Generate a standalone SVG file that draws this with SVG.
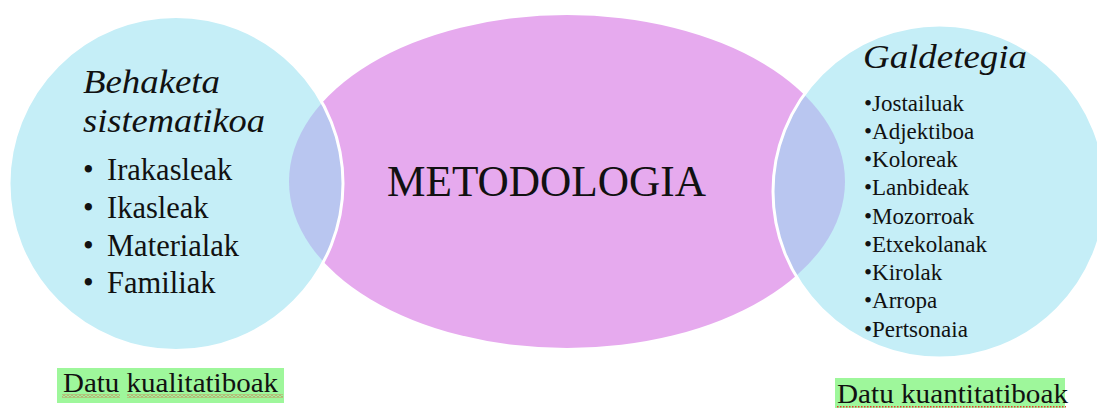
<svg xmlns="http://www.w3.org/2000/svg" width="1097" height="408" viewBox="0 0 1097 408">
<style>
.t{font-family:"Liberation Serif","Times New Roman",serif;fill:#111;}
.it{font-style:italic;font-size:33px;}
.big{font-size:30.5px;}
.sm{font-size:23px;}
.lbl{font-size:28px;}
.cyan{fill:#C5EEF7;}
.lens{fill:#B9C6F0;}
.edge{fill:none;stroke:#FFFFFF;stroke-width:3;}
.hl{fill:#9EF79B;}
</style>
<defs>
<clipPath id="clipEll"><ellipse cx="567" cy="181.5" rx="278" ry="166.5"/></clipPath>
<pattern id="wave" width="4" height="3" patternUnits="userSpaceOnUse">
<path d="M0 2.3 L2 0.7 L4 2.3" fill="none" stroke="#E8392E" stroke-width="0.9"/>
</pattern>
<pattern id="dots" width="3" height="2" patternUnits="userSpaceOnUse">
<rect x="0" y="0" width="1.5" height="1.5" fill="#E8392E"/>
</pattern>
</defs>
<rect width="1097" height="408" fill="#FFFFFF"/>

<g id="node-center">
<ellipse cx="567" cy="181.5" rx="278" ry="166.5" fill="#E6AAEE"/>
</g>

<g id="node-left">
<circle class="cyan" cx="176" cy="183.5" r="167"/>
<circle class="lens" cx="176" cy="183.5" r="167" clip-path="url(#clipEll)"/>
<circle class="edge" cx="176" cy="183.5" r="167"/>
<text class="t it" x="83" y="93" textLength="137" lengthAdjust="spacingAndGlyphs">Behaketa</text>
<text class="t it" x="83" y="132" textLength="182" lengthAdjust="spacingAndGlyphs">sistematikoa</text>
<text class="t big" x="83" y="180">•</text>
<text class="t big" x="107" y="180">Irakasleak</text>
<text class="t big" x="83" y="218">•</text>
<text class="t big" x="107" y="218">Ikasleak</text>
<text class="t big" x="83" y="256">•</text>
<text class="t big" x="107" y="256">Materialak</text>
<text class="t big" x="83" y="293">•</text>
<text class="t big" x="107" y="293">Familiak</text>
</g>

<g id="node-right">
<circle class="cyan" cx="939.5" cy="191.5" r="166.5"/>
<circle class="lens" cx="939.5" cy="191.5" r="166.5" clip-path="url(#clipEll)"/>
<circle class="edge" cx="939.5" cy="191.5" r="166.5"/>
<text class="t it" x="863" y="68" textLength="164" lengthAdjust="spacingAndGlyphs">Galdetegia</text>
<text class="t sm" x="864" y="110.5">•Jostailuak</text>
<text class="t sm" x="864" y="138.75">•Adjektiboa</text>
<text class="t sm" x="864" y="167">•Koloreak</text>
<text class="t sm" x="864" y="195.25">•Lanbideak</text>
<text class="t sm" x="864" y="223.5">•Mozorroak</text>
<text class="t sm" x="864" y="251.75">•Etxekolanak</text>
<text class="t sm" x="864" y="280">•Kirolak</text>
<text class="t sm" x="864" y="308.25">•Arropa</text>
<text class="t sm" x="864" y="336.5">•Pertsonaia</text>
</g>

<g id="node-center-label">
<text class="t" x="387" y="196" font-size="45" textLength="319" lengthAdjust="spacingAndGlyphs">METODOLOGIA</text>
</g>

<g id="label-left">
<rect class="hl" x="57" y="368" width="227" height="35"/>
<text class="t lbl" x="63" y="392" textLength="215" lengthAdjust="spacingAndGlyphs">Datu kualitatiboak</text>
<rect x="62" y="394.5" width="58" height="3" fill="url(#wave)"/>
<rect x="127" y="394.5" width="156" height="3" fill="url(#wave)"/>
</g>

<g id="label-right">
<rect class="hl" x="835" y="378" width="230" height="30"/>
<text class="t lbl" x="837" y="403" textLength="231" lengthAdjust="spacingAndGlyphs">Datu kuantitatiboak</text>
<rect x="836" y="406" width="230" height="2" fill="url(#dots)"/>
</g>
</svg>
